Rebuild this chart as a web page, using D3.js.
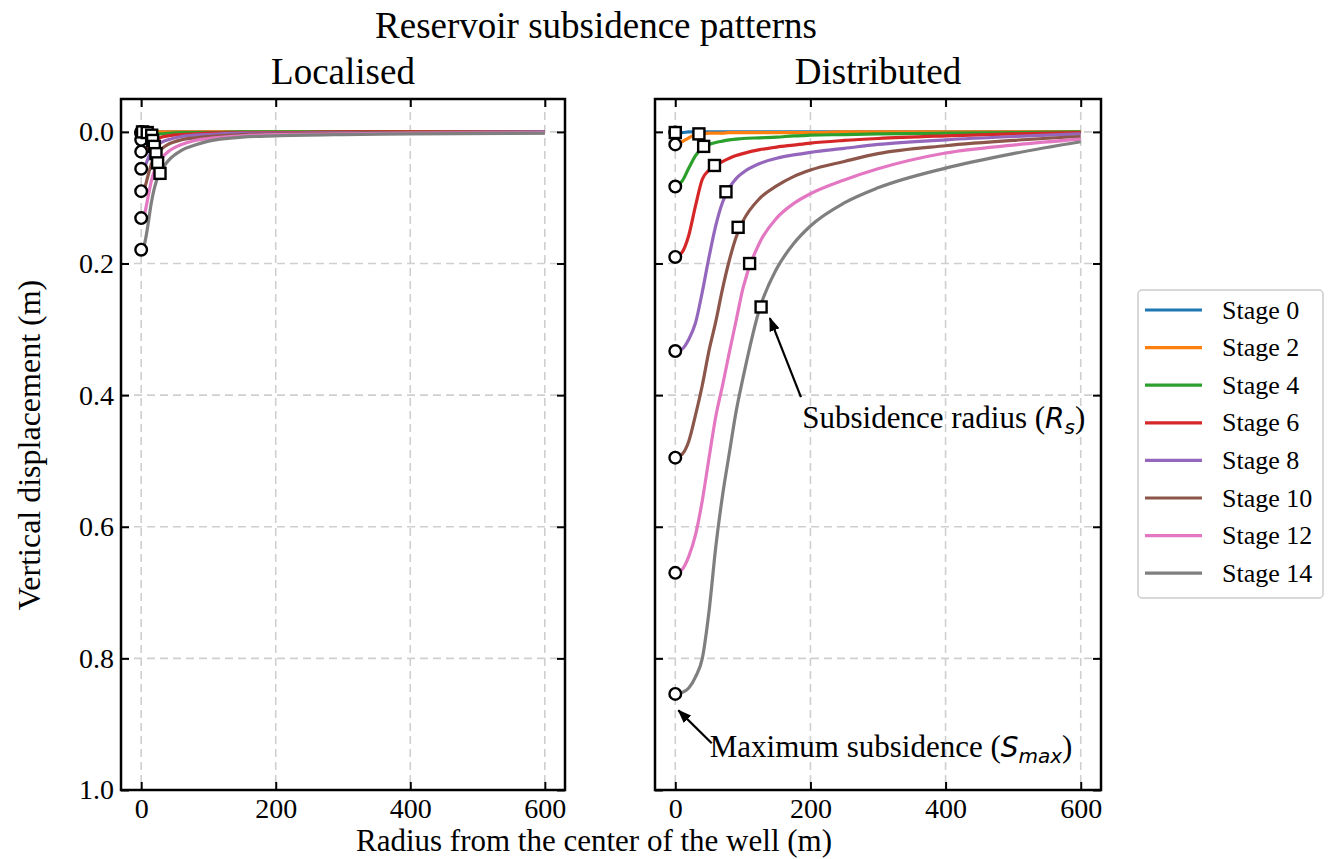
<!DOCTYPE html>
<html lang="en">
<head>
<meta charset="UTF-8">
<title>Reservoir subsidence patterns</title>
<script src="https://cdn.jsdelivr.net/npm/d3@7"></script>
<style>
  body { margin: 0; background: #fff; }
  text { font-family: "Liberation Serif", "Times New Roman", serif; fill: #000; }
  .math { font-family: "DejaVu Sans", sans-serif; font-style: italic; }
</style>
</head>
<body>
<svg id="chart" width="1328" height="859"></svg>
<script>
// ---- data ----
const stages = ["Stage 0", "Stage 2", "Stage 4", "Stage 6", "Stage 8", "Stage 10", "Stage 12", "Stage 14"];
const colors = ["#1f77b4", "#ff7f0e", "#2ca02c", "#d62728", "#9467bd", "#8c564b", "#e377c2", "#7f7f7f"];

const xTicks = [0, 200, 400, 600];
const yTicks = [0, 0.2, 0.4, 0.6, 0.8, 1.0];

// Localised panel
const radiusLocal = [0, 5, 10, 15, 20, 25, 30, 40, 60, 80, 100, 150, 200, 300, 400, 600];
const localCurves = [
  [0, 0, 0, 0, 0, 0, 0, 0, 0, 0, 0, 0, 0, 0, 0, 0],
  [0.002, 0.002, 0.001, 0.001, 0.001, 0, 0, 0, 0, 0, 0, 0, 0, 0, 0, 0],
  [0.012, 0.011, 0.008, 0.005, 0.004, 0.003, 0.003, 0.002, 0.001, 0.001, 0.001, 0, 0, 0, 0, 0],
  [0.030, 0.028, 0.021, 0.015, 0.012, 0.010, 0.008, 0.006, 0.004, 0.003, 0.002, 0.001, 0.001, 0, 0, 0],
  [0.056, 0.053, 0.041, 0.030, 0.023, 0.019, 0.016, 0.012, 0.007, 0.005, 0.004, 0.002, 0.002, 0.001, 0.001, 0],
  [0.090, 0.085, 0.067, 0.049, 0.037, 0.031, 0.026, 0.019, 0.012, 0.009, 0.007, 0.004, 0.003, 0.002, 0.001, 0.001],
  [0.131, 0.124, 0.100, 0.075, 0.058, 0.047, 0.040, 0.030, 0.019, 0.013, 0.010, 0.006, 0.004, 0.003, 0.002, 0.001],
  [0.179, 0.170, 0.142, 0.108, 0.084, 0.068, 0.058, 0.044, 0.028, 0.020, 0.014, 0.008, 0.006, 0.004, 0.003, 0.002]
];
const localSmax = [0, 0.002, 0.012, 0.030, 0.056, 0.090, 0.131, 0.179];
const localRs = [2, 9, 15.6, 17, 19.5, 22, 24.4, 28];
const localRsValue = [0, 0.001, 0.005, 0.013, 0.022, 0.033, 0.047, 0.063];

// Distributed panel
const radiusDist = [0, 10, 20, 30, 40, 50, 60, 70, 80, 90, 100, 125, 150, 175, 200, 250, 300, 400, 500, 600];
const distCurves = [
  [0.001, 0.001, 0, 0, 0, 0, 0, 0, 0, 0, 0, 0, 0, 0, 0, 0, 0, 0, 0, 0],
  [0.019, 0.015, 0.009, 0.004, 0.003, 0.002, 0.002, 0.002, 0.001, 0.001, 0.001, 0.001, 0.001, 0.001, 0.001, 0, 0, 0, 0, 0],
  [0.083, 0.075, 0.055, 0.036, 0.024, 0.019, 0.016, 0.014, 0.012, 0.011, 0.010, 0.009, 0.008, 0.006, 0.005, 0.004, 0.003, 0.002, 0.001, 0],
  [0.190, 0.183, 0.157, 0.112, 0.072, 0.058, 0.050, 0.045, 0.040, 0.036, 0.033, 0.027, 0.023, 0.020, 0.017, 0.013, 0.010, 0.006, 0.003, 0.001],
  [0.333, 0.330, 0.315, 0.290, 0.243, 0.190, 0.142, 0.107, 0.085, 0.071, 0.062, 0.048, 0.040, 0.035, 0.031, 0.025, 0.019, 0.012, 0.007, 0.003],
  [0.495, 0.490, 0.470, 0.430, 0.385, 0.332, 0.288, 0.238, 0.195, 0.160, 0.136, 0.101, 0.082, 0.068, 0.058, 0.045, 0.033, 0.021, 0.013, 0.007],
  [0.670, 0.665, 0.645, 0.612, 0.560, 0.495, 0.432, 0.385, 0.335, 0.287, 0.238, 0.168, 0.131, 0.109, 0.094, 0.073, 0.056, 0.032, 0.020, 0.011],
  [0.854, 0.852, 0.845, 0.828, 0.800, 0.728, 0.630, 0.552, 0.488, 0.425, 0.375, 0.268, 0.208, 0.170, 0.143, 0.108, 0.085, 0.055, 0.033, 0.015]
];
const distSmax = [0.001, 0.019, 0.083, 0.190, 0.333, 0.495, 0.670, 0.854];
const distRs = [0, 35, 42, 58, 75, 93, 110, 127];
const distRsValue = [0.001, 0.003, 0.022, 0.051, 0.091, 0.145, 0.200, 0.266];

// ---- layout ----
const svg = d3.select("#chart");
const plotTop = 99, plotBottom = 790;

const y = d3.scaleLinear().domain([-0.05, 1.0]).range([plotTop, plotBottom]);

function drawPanel(left, right, title, radius, curves, smax, rs, rsValue, showYLabels) {
  const x = d3.scaleLinear().domain([-30, 630]).range([left, right]);
  const g = svg.append("g");

  // dashed grid
  g.selectAll(".gx").data(xTicks).enter().append("line")
    .attr("x1", d => x(d)).attr("x2", d => x(d))
    .attr("y1", plotTop).attr("y2", plotBottom)
    .attr("stroke", "#cfcfcf").attr("stroke-width", 1.6).attr("stroke-dasharray", "8,5");
  g.selectAll(".gy").data(yTicks).enter().append("line")
    .attr("x1", left).attr("x2", right)
    .attr("y1", d => y(d)).attr("y2", d => y(d))
    .attr("stroke", "#cfcfcf").attr("stroke-width", 1.6).attr("stroke-dasharray", "8,5");

  // curves
  const line = d3.line()
    .x((d, i) => x(radius[i]))
    .y(d => y(d))
    .curve(d3.curveMonotoneX);
  curves.forEach((c, i) => {
    g.append("path")
      .attr("d", line(c))
      .attr("fill", "none")
      .attr("stroke", colors[i])
      .attr("stroke-width", 3.2);
  });

  // markers: S_max circles at r = 0, R_s squares
  g.selectAll(".smax").data(smax).enter().append("circle")
    .attr("cx", x(0)).attr("cy", d => y(d)).attr("r", 5.8)
    .attr("fill", "#fff").attr("stroke", "#000").attr("stroke-width", 2.4);
  g.selectAll(".rs").data(rs).enter().append("rect")
    .attr("x", d => x(d) - 5.5).attr("y", (d, i) => y(rsValue[i]) - 5.5)
    .attr("width", 11).attr("height", 11)
    .attr("fill", "#fff").attr("stroke", "#000").attr("stroke-width", 2.4);

  // ticks pointing inwards on all four sides
  const axB = g.append("g").attr("transform", `translate(0,${plotBottom})`)
    .call(d3.axisBottom(x).tickValues(xTicks).tickSize(-8).tickPadding(8).tickFormat(d3.format("d")));
  const axT = g.append("g").attr("transform", `translate(0,${plotTop})`)
    .call(d3.axisTop(x).tickValues(xTicks).tickSize(-8).tickFormat(""));
  const axL = g.append("g").attr("transform", `translate(${left},0)`)
    .call(d3.axisLeft(y).tickValues(yTicks).tickSize(-8).tickPadding(7)
      .tickFormat(showYLabels ? d3.format(".1f") : ""));
  const axR = g.append("g").attr("transform", `translate(${right},0)`)
    .call(d3.axisRight(y).tickValues(yTicks).tickSize(-8).tickFormat(""));
  [axB, axT, axL, axR].forEach(a => {
    a.attr("font-family", null).attr("font-size", null);
    a.select(".domain").remove();
    a.selectAll(".tick line").attr("stroke", "#000").attr("stroke-width", 2);
    a.selectAll(".tick text")
      .style("font-family", "'Liberation Serif', 'Times New Roman', serif")
      .style("font-size", "28px").attr("fill", "#000");
  });

  // frame
  g.append("rect")
    .attr("x", left).attr("y", plotTop)
    .attr("width", right - left).attr("height", plotBottom - plotTop)
    .attr("fill", "none").attr("stroke", "#000").attr("stroke-width", 2.5);

  svg.append("text")
    .attr("x", (left + right) / 2).attr("y", 84)
    .attr("text-anchor", "middle").style("font-size", "37px")
    .text(title);

  return x;
}

drawPanel(121, 565, "Localised", radiusLocal, localCurves, localSmax, localRs, localRsValue, true);
const xd = drawPanel(655, 1101, "Distributed", radiusDist, distCurves, distSmax, distRs, distRsValue, false);

// ---- annotations on the distributed panel ----
svg.append("defs").append("marker")
  .attr("id", "arrowhead")
  .attr("viewBox", "0 -5 12 10")
  .attr("refX", 11).attr("refY", 0)
  .attr("orient", "auto")
  .attr("markerUnits", "userSpaceOnUse")
  .attr("markerWidth", 14).attr("markerHeight", 12)
  .append("path")
  .attr("d", "M0,-4.5 L12,0 L0,4.5 Z")
  .attr("fill", "#000");

function annotate(tail, tip, textPos, label, sym, sub) {
  svg.append("line")
    .attr("x1", xd(tail[0])).attr("y1", y(tail[1]))
    .attr("x2", xd(tip[0])).attr("y2", y(tip[1]))
    .attr("stroke", "#000").attr("stroke-width", 2.2)
    .attr("marker-end", "url(#arrowhead)");
  const t = svg.append("text")
    .attr("x", xd(textPos[0])).attr("y", y(textPos[1]))
    .style("font-size", "31px");
  t.append("tspan").text(label + " (");
  t.append("tspan").attr("class", "math").style("font-size", "28px").text(sym);
  t.append("tspan").attr("class", "math").style("font-size", "20px").attr("dy", 6).text(sub);
  t.append("tspan").attr("dy", -6).text(")");
}

annotate([186, 0.403], [140, 0.283], [188, 0.45], "Subsidence radius", "R", "s");
annotate([54, 0.929], [4.6, 0.879], [51, 0.95], "Maximum subsidence", "S", "max");

// ---- figure titles and axis labels ----
svg.append("text").attr("x", 596).attr("y", 38)
  .attr("text-anchor", "middle").style("font-size", "37px")
  .text("Reservoir subsidence patterns");
svg.append("text").attr("x", 594).attr("y", 851)
  .attr("text-anchor", "middle").style("font-size", "31px")
  .text("Radius from the center of the well (m)");
svg.append("text")
  .attr("transform", "translate(40,445) rotate(-90)")
  .attr("text-anchor", "middle").style("font-size", "32px")
  .text("Vertical displacement (m)");

// ---- legend ----
const legend = svg.append("g").attr("transform", "translate(1138,290)");
legend.append("rect")
  .attr("width", 185).attr("height", 308).attr("rx", 4)
  .attr("fill", "#fff").attr("stroke", "#cccccc").attr("stroke-width", 1.5);
const item = legend.selectAll(".item").data(stages).enter().append("g")
  .attr("transform", (d, i) => `translate(0,${20 + i * 37.6})`);
item.append("line")
  .attr("x1", 7).attr("x2", 64)
  .attr("stroke", (d, i) => colors[i]).attr("stroke-width", 3.2);
item.append("text")
  .attr("x", 84).attr("dy", "0.33em")
  .style("font-size", "26px")
  .text(d => d);
</script>
</body>
</html>
